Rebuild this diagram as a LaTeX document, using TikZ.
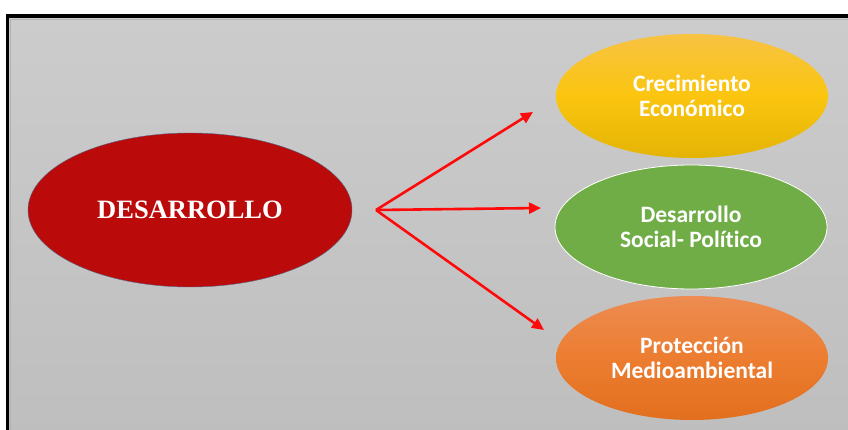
\documentclass[tikz,border=0pt]{standalone}
\usepackage{fontspec}
\setmainfont{Liberation Serif}
\newfontfamily\calibri[Ligatures=NoCommon]{Carlito}
\usetikzlibrary{shapes.geometric,arrows.meta}
\definecolor{fondo}{RGB}{204,204,204}
\definecolor{fondobajo}{RGB}{190,190,190}
\definecolor{rojo}{RGB}{187,10,10}
\definecolor{borde}{RGB}{80,105,140}
\definecolor{amarillo}{RGB}{251,197,15}
\definecolor{amarilloalto}{RGB}{247,195,66}
\definecolor{amarillobajo}{RGB}{228,180,5}
\definecolor{verde}{RGB}{112,173,71}
\definecolor{naranja}{RGB}{236,125,48}
\definecolor{naranjaalto}{RGB}{237,140,82}
\definecolor{naranjabajo}{RGB}{226,111,30}
\definecolor{flecha}{RGB}{255,10,10}

\begin{document}
\begin{tikzpicture}[x=1pt, y=-1pt]

\tikzset{ raiz/.style={ellipse, draw=borde, thin, fill=rojo, text=white,
    minimum width=324pt, minimum height=154pt, inner sep=0pt,
    font={\fontsize{26.5pt}{28pt}\selectfont\bfseries}},
  rama/.style={ellipse, text=white, align=center, minimum width=272pt,
    minimum height=124pt, inner sep=0pt,
    font={\calibri\fontsize{23.5pt}{25pt}\selectfont\bfseries}},
  flechita/.style={draw=flecha, line width=2.6pt,
    -{Triangle[length=12pt,width=11pt]}}
}

\useasboundingbox (0,0) rectangle (848,430);
\clip (0,0) rectangle (848,430);

% Fondo y marco
\shade[top color=fondo, bottom color=fondobajo] (9,18) rectangle (860,440);
\draw[gray!60, line width=1pt] (10,440) -- (10,19.5) -- (860,19.5);
\draw[black, line width=3.5pt] (7.5,440) -- (7.5,16) -- (860,16);

% Nodos
\node[raiz] (des) at (190,210) {DESARROLLO};

\node[rama, top color=amarilloalto, bottom color=amarillobajo,
  middle color=amarillo] (eco) at (692,96) {Crecimiento\\Económico};
\node[rama, fill=verde, draw=white, thick] (soc) at (691,227)
  {Desarrollo\\Social- Político};
\node[rama, top color=naranjaalto, bottom color=naranjabajo,
  middle color=naranja] (amb) at (692,358) {Protección\\Medioambiental};

% Flechas
\coordinate (hub) at (376,210);
\coordinate (finA) at (533,112);
\coordinate (finB) at (541,208);
\coordinate (finC) at (544,330);
\draw[flechita] (hub) -- (finA);
\draw[flechita] (hub) -- (finB);
\draw[flechita] (hub) -- (finC);

\end{tikzpicture}
\end{document}
